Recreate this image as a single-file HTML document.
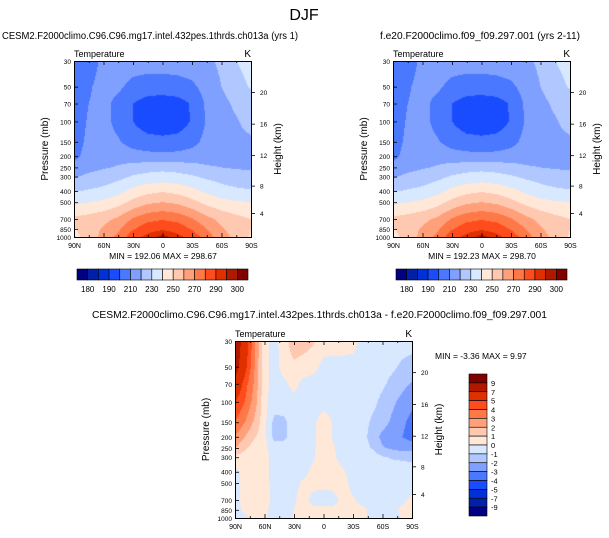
<!DOCTYPE html>
<html><head><meta charset="utf-8">
<style>
html,body{margin:0;padding:0;background:#fff;}
#wrap{position:relative;width:609px;height:538px;overflow:hidden;font-family:"Liberation Sans",sans-serif;}
canvas{position:absolute;}
svg{position:absolute;left:0;top:0;}
</style></head>
<body>
<div id="wrap">
<canvas id="c1" width="177" height="176" style="left:74px;top:61px"></canvas>
<canvas id="c2" width="177" height="176" style="left:393px;top:61px"></canvas>
<canvas id="c3" width="177" height="177" style="left:235px;top:341px"></canvas>
<svg id="ov" width="609" height="538"></svg>
</div>
<script>
// ---------- data ----------
const pressures = [30,50,70,100,150,200,250,300,400,500,700,850,1000];
const latsT = [90,75,60,45,30,15,0,-15,-30,-45,-60,-75,-90];
const latsD = [90,80,70,60,50,40,30,20,10,0,-10,-20,-30,-40,-50,-60,-70,-80,-90];
const tempA = [
 [205,206,212,214,215,215,215,215,216,218,222,230,234],
 [205,209,213,212,207,205,205,206,208,214,220,226,231],
 [205,210,213,207,200,196,195,196,201,212,217,222,226],
 [205,211,213,207,200,194,193,194,201,211,216,219,224],
 [206,212,214,211,206,204,203,204,207,213,215,217,218],
 [207,214,216,216,214,213,213,213,214,216,217,218,218],
 [214,217,219,221,224,226,227,226,224,221,220,219,219],
 [219,222,224,227,231,233,234,233,231,228,226,224,222],
 [229,231,233,237,243,247,249,247,243,238,234,232,231],
 [238,240,242,246,253,258,260,258,253,247,243,241,240],
 [252,254,257,262,271,277,279,277,271,263,257,253,250],
 [249,256,261,268,279,286,289,286,279,270,261,256,250],
 [246,255,263,273,286,293,297,293,286,275,264,257,249]
];
const tempB = [
 [204,206,212,214,215,215,215,215,216,218,222,230,234],
 [204,209,213,212,207,205,205,206,208,214,220,226,231],
 [205,210,213,207,200,196,195,196,201,212,217,222,226],
 [205,211,213,207,200,194,193,194,201,211,216,219,224],
 [206,212,214,211,206,204,203,204,207,213,215,217,218],
 [207,214,216,216,214,213,213,213,214,216,217,218,218],
 [214,217,219,221,224,226,227,226,224,221,220,219,219],
 [219,222,224,227,231,233,234,233,231,228,226,224,222],
 [229,231,233,237,243,247,249,247,243,238,234,232,231],
 [238,240,242,246,253,258,260,258,253,247,243,241,240],
 [252,254,257,262,271,277,279,277,271,263,257,253,250],
 [249,256,261,268,279,286,289,286,279,270,261,256,250],
 [246,255,263,273,286,293,297,293,286,275,264,257,249]
];
const diffVals = [
 [8.5,6,3.2,0.4,-0.4,0.6,1.6,1.5,1.1,0.5,0.4,0.4,0.3,-0.3,-0.4,-0.4,-0.4,-0.5,-0.6],
 [8,5.5,3,0.3,-0.4,0.4,0.8,0.5,0.3,-0.3,-0.3,-0.3,-0.3,-0.4,-0.4,-0.6,-0.8,-1.2,-1.4],
 [6.5,4.5,2.8,0.3,-0.4,-0.2,0.3,-0.3,-0.4,-0.4,-0.4,-0.4,-0.4,-0.4,-0.5,-0.8,-1.3,-1.7,-2.1],
 [5,4,2.5,0.3,-0.5,-0.5,-0.3,-0.4,-0.4,-0.4,-0.4,-0.4,-0.4,-0.5,-0.7,-1.3,-1.8,-2.3,-2.8],
 [4,3,1.8,0.3,-1.3,-1.2,-0.5,-0.4,-0.2,0.5,-0.1,-0.4,-0.4,-0.6,-1.2,-1.6,-2.2,-2.8,-3.3],
 [3,2,1.1,0.3,-1.3,-1.2,-0.5,-0.4,-0.2,0.5,-0.1,-0.4,-0.4,-0.7,-1.4,-2.3,-2.6,-3.0,-3.4],
 [2,1.2,0.5,0.3,-0.6,-0.6,-0.4,-0.4,-0.1,0.5,0.1,-0.4,-0.4,-0.6,-1.1,-1.9,-2.2,-2.4,-2.4],
 [0.8,0.5,0.4,0.3,-0.3,-0.4,-0.4,-0.4,-0.1,0.5,0.1,-0.3,-0.4,-0.4,-0.5,-0.9,-1.1,-1.2,-1.3],
 [-0.3,0.3,0.4,0.3,-0.3,-0.4,-0.4,-0.3,0.3,0.5,0.4,0.1,-0.3,-0.4,-0.4,-0.4,-0.4,-0.4,-0.4],
 [-0.3,0.3,0.4,0.3,-0.3,-0.4,-0.3,0.2,0.4,0.3,0.4,0.3,-0.3,-0.4,-0.4,-0.4,-0.4,-0.4,-0.4],
 [-0.3,0.3,0.4,0.3,-0.2,-0.3,-0.1,0.4,-0.4,-0.5,-0.4,0.4,0.1,-0.3,-0.4,-0.4,-0.3,-0.2,0.2],
 [-0.3,0.2,0.3,0.2,-0.3,-0.3,0.0,0.3,0.3,0.3,0.3,0.3,0.3,0.2,-0.3,-0.3,-0.3,0.2,0.3],
 [-0.4,-0.2,0.3,0.1,-0.3,-0.3,0.1,0.3,0.3,0.3,0.3,0.3,0.3,0.2,-0.3,-0.3,-0.3,0.1,0.3]
];
const tempLevels = [180,185,190,200,210,220,230,240,250,260,270,280,290,295,300];
const tempLabels = ["180","190","210","230","250","270","290","300"];
const diffLevels = [-9,-7,-5,-4,-3,-2,-1,0,1,2,3,4,5,7,9];
const diffLabels = ["9","7","5","4","3","2","1","0","-1","-2","-3","-4","-5","-7","-9"];
const palette = ['#000080','#0020a8','#0030d8','#1a4cff','#4a78ff','#80a0ff','#b0c8ff','#d8e8ff','#ffe8d8','#ffc8b0','#ffa07a','#ff7848','#ff4c1c','#e03000','#b01800','#800000'];
const latTickLabels = ["90N","60N","30N","0","30S","60S","90S"];
const pTickLabels = ["30","50","70","100","150","200","250","300","400","500","700","850","1000"];
const heightTicks = ["20","16","12","8","4"];
const heightFrac = [0.176,0.356,0.535,0.708,0.864];

// ---------- axis functions ----------
const LP0 = Math.log(30), LPR = Math.log(1000/30);
function yFrac(p){ return (Math.log(p)-LP0)/LPR; }
function xFrac(lat){ return (90-lat)/180; }
function lvlIndex(v, levels){ let i=0; while(i<levels.length && v>=levels[i]) i++; return i; }

function sample(grid, lats, xf, yf){
  const lat = 90 - xf*180;
  let i=0; while(i<lats.length-2 && lat < lats[i+1]) i++;
  const tx = (lats[i]-lat)/(lats[i]-lats[i+1]);
  const lp = LP0 + yf*LPR;
  let j=0; while(j<pressures.length-2 && lp > Math.log(pressures[j+1])) j++;
  const ty = (lp-Math.log(pressures[j]))/(Math.log(pressures[j+1])-Math.log(pressures[j]));
  const a=grid[j][i], b=grid[j][i+1], c=grid[j+1][i], d=grid[j+1][i+1];
  const cx=Math.max(0,Math.min(1,tx)), cy=Math.max(0,Math.min(1,ty));
  return (a*(1-cx)+b*cx)*(1-cy)+(c*(1-cx)+d*cx)*cy;
}
function hex(h){ return [parseInt(h.substr(1,2),16),parseInt(h.substr(3,2),16),parseInt(h.substr(5,2),16)]; }
const palRGB = palette.map(hex);
function paint(id, grid, lats, levels){
  const cv=document.getElementById(id), ctx=cv.getContext('2d');
  const W=cv.width,H=cv.height, img=ctx.createImageData(W,H);
  for(let y=0;y<H;y++)for(let x=0;x<W;x++){
    const v=sample(grid,lats,(x+0.5)/W,(y+0.5)/H);
    const c=palRGB[lvlIndex(v,levels)], k=(y*W+x)*4;
    img.data[k]=c[0];img.data[k+1]=c[1];img.data[k+2]=c[2];img.data[k+3]=255;
  }
  ctx.putImageData(img,0,0);
}
paint('c1',tempA,latsT,tempLevels);
paint('c2',tempB,latsT,tempLevels);
paint('c3',diffVals,latsD,diffLevels);

// ---------- overlay ----------
const NS="http://www.w3.org/2000/svg", ov=document.getElementById('ov');
function mk(tag, attrs, parent){ const e=document.createElementNS(NS,tag); for(const k in attrs) e.setAttribute(k,attrs[k]); (parent||ov).appendChild(e); return e; }
function txt(x,y,s,size,anchor,parent){ const t=mk('text',{x:x,y:y,'font-size':size,'text-anchor':anchor||'start',fill:'#000'},parent); t.textContent=s; return t; }

const t0=txt(304,20,"DJF",16,'middle');



function panel(name, X, Y, W, H, title, titleX, titleY, titleLen, minmax){
  const g=mk('g',{});
  
  
  const tt=txt(titleX,titleY,title,10,'start',g);
  tt.setAttribute('textLength',titleLen);
  tt.setAttribute('lengthAdjust','spacingAndGlyphs');
  
  
  const tl=txt(X,Y-4,"Temperature",9,'start',g);
  
  
  const tk=txt(X+W,Y-4,"K",10,'end',g);
  
  
  mk('rect',{x:X+0.5,y:Y+0.5,width:W,height:H,fill:'none',stroke:'#000','stroke-width':1},g);
  for(let lat=90;lat>=-90;lat-=15){
    const x=X+0.5+xFrac(lat)*W, major=(lat%30===0), L=major?4:2;
    mk('line',{x1:x,y1:Y,x2:x,y2:Y+L,stroke:'#000','stroke-width':0.8},g);
    mk('line',{x1:x,y1:Y+H,x2:x,y2:Y+H-L,stroke:'#000','stroke-width':0.8},g);
  }
  latTickLabels.forEach((s,i)=>{
    const lx=txt(X+0.5+i*W/6,Y+H+11,s,7,'middle',g);
    
    
  });
  pressures.forEach((p,i)=>{
    const y=Y+0.5+yFrac(p)*H;
    mk('line',{x1:X,y1:y,x2:X+4,y2:y,stroke:'#000','stroke-width':0.8},g);
    const ly=txt(X-3,y+2.5,pTickLabels[i],6.5,'end',g);
    
    
  });
  heightTicks.forEach((s,i)=>{
    const y=Y+0.5+heightFrac[i]*H;
    mk('line',{x1:X+W,y1:y,x2:X+W+4,y2:y,stroke:'#000','stroke-width':0.8},g);
    const lh=txt(X+W+9,y+2.5,s,6.5,'start',g);
    
    
  });
  const ya=txt(0,0,"Pressure (mb)",10,'middle',g);
  ya.setAttribute('transform','translate('+(X-26)+','+(Y+H/2)+') rotate(-90)');
  
  
  const ha=txt(0,0,"Height (km)",10,'middle',g);
  ha.setAttribute('transform','translate('+(X+W+30)+','+(Y+H/2)+') rotate(-90)');
  
  
  const mm=txt(minmax[0],minmax[1],minmax[2],8.5,minmax[3],g);
  
  
}
panel('panel-cesm2',74,61,177,176,"CESM2.F2000climo.C96.C96.mg17.intel.432pes.1thrds.ch013a (yrs 1)",2,39,296,[163,259,"MIN = 192.06  MAX = 298.67",'middle']);
panel('panel-f09',393,61,177,176,"f.e20.F2000climo.f09_f09.297.001 (yrs 2-11)",380,39,200,[482,259,"MIN = 192.23  MAX = 298.70",'middle']);
panel('panel-diff',235,341,177,177,"CESM2.F2000climo.C96.C96.mg17.intel.432pes.1thrds.ch013a - f.e20.F2000climo.f09_f09.297.001",92,318,455,[435,359,"MIN =  -3.36  MAX =   9.97",'start']);

function hbar(name,X,Y,W,H){
  const g=mk('g',{});
  
  
  const bw=W/palette.length;
  palette.forEach((c,i)=>{
    const r=mk('rect',{x:X+i*bw,y:Y,width:bw,height:H,fill:c,stroke:'#000','stroke-width':0.6},g);
    
    
  });
  tempLabels.forEach((s,k)=>{
    const l=txt(X+(2*k+1)*bw,Y+H+12,s,8,'middle',g);
    
    
  });
}
hbar('colorbar-cesm2',77,269,171,11);
hbar('colorbar-f09',396,269,171,11);

(function(){
  const g=mk('g',{});
  
  
  const X=469,Y=374,W=18,H=142,bh=H/palette.length;
  palette.slice().reverse().forEach((c,i)=>{
    const r=mk('rect',{x:X,y:Y+i*bh,width:W,height:bh,fill:c,stroke:'#000','stroke-width':0.6},g);
    
    
  });
  diffLabels.forEach((s,k)=>{
    const l=txt(X+W+4,Y+(k+1)*bh+3,s,7.5,'start',g);
    
    
  });
})();
</script>
</body></html>
